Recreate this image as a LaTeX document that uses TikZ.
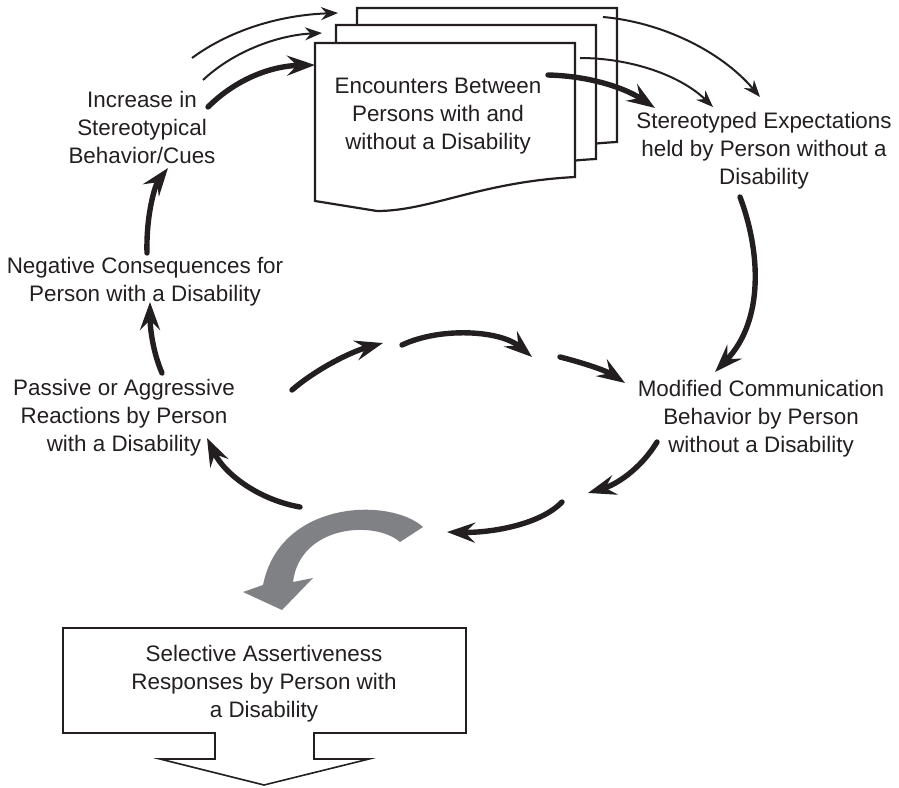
\documentclass[tikz,border=0pt]{standalone}
\usepackage{fontspec}
\setmainfont{Liberation Sans}
\usetikzlibrary{arrows.meta}
\definecolor{ink}{RGB}{35,31,32}
\definecolor{arrowgray}{RGB}{128,129,133}
\tikzset{
  lbl/.style={align=center, font=\fontsize{11.2}{14}\selectfont, text=ink, inner sep=0pt},
  bigarrow/.style={draw=ink, line width=2.7pt, line cap=round, -{Stealth[length=14pt,width=10pt,inset=5pt]}},
  smallarrow/.style={draw=ink, line width=1pt, -{Stealth[length=8.5pt,width=6.5pt,inset=2.8pt]}},
  docpage/.style={draw=ink, line width=1.1pt, fill=white},
  outline/.style={draw=ink, line width=0.8pt},
}
\begin{document}
\begin{tikzpicture}[x=0.5pt,y=-0.5pt]
\useasboundingbox (0,0) rectangle (899,787);
% stacked documents
\path[docpage, shift={(42,-35)}] (315,43) -- (575,43) -- (575,177) .. controls (480,182) and (430,211) .. (377,211) -- (315,201) -- cycle;
\path[docpage, shift={(21,-18)}] (315,43) -- (575,43) -- (575,177) .. controls (480,182) and (430,211) .. (377,211) -- (315,201) -- cycle;
\path[docpage] (315,43) -- (575,43) -- (575,177) .. controls (480,182) and (430,211) .. (377,211) -- (315,201) -- cycle;

% labels
\node[lbl] (enc) at (438,116) {Encounters Between\\Persons with and\\without a Disability};
\node[lbl] (inc) at (142,127) {Increase in\\Stereotypical\\Behavior/Cues};
\node[lbl] (neg) at (145,282) {Negative Consequences for\\Person with a Disability};
\node[lbl] (pas) at (124,418) {Passive or Aggressive\\Reactions by Person\\with a Disability};
\node[lbl] (ste) at (764,151) {Stereotyped Expectations\\held by Person without a\\Disability};
\node[lbl] (mod) at (761,419) {Modified Communication\\Behavior by Person\\without a Disability};
\node[lbl] (sel) at (264,684) {Selective Assertiveness\\Responses by Person with\\a Disability};

% selective box with downward block arrow
\draw[outline, line join=miter] (215,733) -- (63,733) -- (63,628) -- (466,628) -- (466,733) -- (314,733)
  -- (314,759) -- (369,759) -- (264,785) -- (160,759) -- (215,759) -- cycle;

% connector end points
\coordinate (incA) at (208,107); \coordinate (docA) at (315,65);
\coordinate (incB) at (203,80);  \coordinate (docB) at (322,33);
\coordinate (incC) at (192,58);  \coordinate (docC) at (338,13);
\coordinate (docD) at (548,75);  \coordinate (steA) at (655,108);
\coordinate (docE) at (580,58);  \coordinate (steB) at (713,107);
\coordinate (docF) at (603,17);  \coordinate (steC) at (760,97);
\coordinate (steD) at (740,197); \coordinate (modA) at (715,372);
\coordinate (modB) at (657,442); \coordinate (lowA) at (588,493);
\coordinate (lowB) at (562,502); \coordinate (lowC) at (447,532);
\coordinate (lowD) at (300,507); \coordinate (pasA) at (207,438);
\coordinate (pasB) at (162,373); \coordinate (negA) at (150,302);
\coordinate (negB) at (147,253); \coordinate (incD) at (168,168);
\coordinate (midA) at (292,390); \coordinate (midB) at (383,343);
\coordinate (midC) at (402,345); \coordinate (midD) at (532,357);
\coordinate (midE) at (560,357); \coordinate (midF) at (625,383);

% arrows into the documents
\draw[bigarrow] (incA) .. controls (235,80) and (270,66) .. (docA);
\draw[smallarrow] (incB) .. controls (235,50) and (280,35) .. (docB);
\draw[smallarrow] (incC) .. controls (230,30) and (280,15) .. (docC);
% arrows out of the documents
\draw[bigarrow] (docD) .. controls (590,76) and (625,88) .. (steA);
\draw[smallarrow] (docE) .. controls (630,58) and (680,75) .. (steB);
\draw[smallarrow] (docF) .. controls (660,22) and (720,50) .. (steC);
% outer cycle
\draw[bigarrow] (steD) .. controls (760,250) and (765,320) .. (modA);
\draw[bigarrow] (modB) .. controls (640,470) and (615,485) .. (lowA);
\draw[bigarrow] (lowB) .. controls (540,525) and (490,533) .. (lowC);
\draw[bigarrow] (lowD) .. controls (260,500) and (225,475) .. (pasA);
\draw[bigarrow] (pasB) .. controls (152,350) and (150,325) .. (negA);
\draw[bigarrow] (negB) .. controls (146,215) and (155,185) .. (incD);
% inner arc
\draw[bigarrow] (midA) .. controls (315,370) and (350,352) .. (midB);
\draw[bigarrow] (midC) .. controls (440,327) and (500,330) .. (midD);
\draw[bigarrow] (midE) .. controls (580,362) and (605,370) .. (midF);

% grey curved arrow
\fill[arrowgray] (423,527) .. controls (390,497) and (280,500) .. (263,585) -- (243,592) -- (282,610)
  -- (313,578) -- (293,582) .. controls (300,525) and (375,520) .. (400,542) -- cycle;
\end{tikzpicture}
\end{document}
